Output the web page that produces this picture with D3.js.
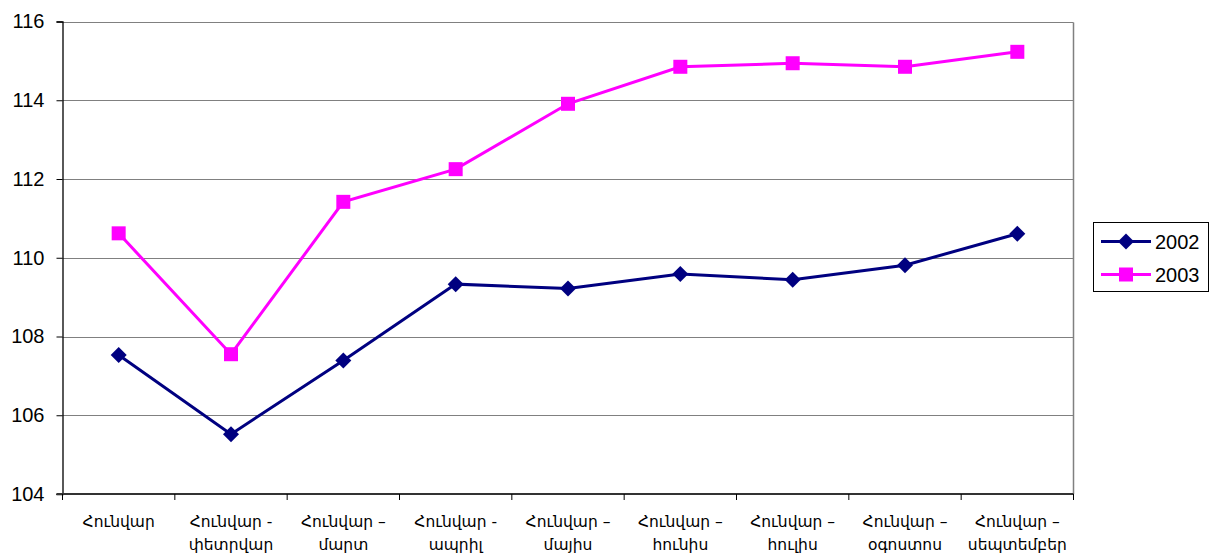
<!DOCTYPE html>
<html>
<head>
<meta charset="utf-8">
<script src="https://cdn.jsdelivr.net/npm/d3@7"></script>
<style>
  html, body { margin: 0; padding: 0; background: #fff; }
  svg { display: block; font-family: "Liberation Sans", Arial, sans-serif; }
  .ylab { font-size: 20px; fill: #000; }
  .xlab { font-family: "DejaVu Sans", "Noto Sans", sans-serif; font-size: 15.5px; fill: #000; }
  .leg { font-size: 20px; fill: #000; }
</style>
</head>
<body>
<svg id="chart" width="1215" height="554"></svg>
<script>
// ── Data ──────────────────────────────────────────────────────────────────
const categories = [
  'Հունվար',
  'Հունվար - փետրվար',
  'Հունվար – մարտ',
  'Հունվար - ապրիլ',
  'Հունվար – մայիս',
  'Հունվար – հունիս',
  'Հունվար – հուլիս',
  'Հունվար – օգոստոս',
  'Հունվար – սեպտեմբեր'
];
const values2002 = [107.53, 105.52, 107.39, 109.33, 109.22, 109.59, 109.44, 109.81, 110.61];
const values2003 = [110.62, 107.55, 111.42, 112.25, 113.91, 114.85, 114.94, 114.85, 115.23];
const yTicks = [104, 106, 108, 110, 112, 114, 116];

const series = [
  { name: '2002', values: values2002, color: '#000080', marker: 'diamond' },
  { name: '2003', values: values2003, color: '#FF00FF', marker: 'square' }
];

// ── Layout ────────────────────────────────────────────────────────────────
const plot = { left: 62.5, top: 21.5, right: 1073.5, bottom: 494 };
const svg = d3.select('#chart');

const x = d3.scaleBand()
  .domain(categories)
  .range([plot.left, plot.right]);

const y = d3.scaleLinear()
  .domain([104, 116])
  .range([plot.bottom, plot.top]);

const cx = d => x(d) + x.bandwidth() / 2;

// Gridlines
svg.append('g')
  .selectAll('line')
  .data(yTicks.filter(t => t !== 104))
  .enter()
  .append('line')
  .attr('x1', plot.left)
  .attr('x2', plot.right)
  .attr('y1', d => Math.round(y(d)) + 0.5)
  .attr('y2', d => Math.round(y(d)) + 0.5)
  .attr('stroke', '#808080')
  .attr('stroke-width', 1);

// Right border of plot area
svg.append('line')
  .attr('x1', plot.right).attr('x2', plot.right)
  .attr('y1', Math.round(y(116)) + 0.5).attr('y2', plot.bottom)
  .attr('stroke', '#808080')
  .attr('stroke-width', 1.5);

// Y axis
const yAxis = svg.append('g')
  .attr('transform', `translate(${plot.left},0)`)
  .call(d3.axisLeft(y).tickValues(yTicks).tickSize(6).tickPadding(12).tickFormat(d3.format('d')));
yAxis.select('.domain').attr('stroke', '#000').attr('stroke-width', 1.3);
yAxis.selectAll('.tick line').attr('stroke', '#000');
yAxis.selectAll('text').attr('class', 'ylab').attr('font-family', null).attr('font-size', null);

// X axis: ticks at category boundaries
const boundaries = categories.map(c => x(c)).concat([plot.right]);
svg.append('line')
  .attr('x1', plot.left - 6).attr('x2', plot.right)
  .attr('y1', plot.bottom).attr('y2', plot.bottom)
  .attr('stroke', '#333')
  .attr('stroke-width', 2);
svg.append('g')
  .selectAll('line')
  .data(boundaries)
  .enter()
  .append('line')
  .attr('x1', d => d).attr('x2', d => d)
  .attr('y1', plot.bottom).attr('y2', plot.bottom + 6)
  .attr('stroke', '#000')
  .attr('stroke-width', 1);

// X labels, wrapped at the last space
const xl = svg.append('g')
  .selectAll('text')
  .data(categories)
  .enter()
  .append('text')
  .attr('class', 'xlab')
  .attr('text-anchor', 'middle')
  .attr('x', d => cx(d))
  .attr('y', 527);
xl.each(function (d) {
  const i = d.lastIndexOf(' ');
  const lines = i > 0 ? [d.slice(0, i), d.slice(i + 1)] : [d];
  d3.select(this).selectAll('tspan')
    .data(lines)
    .enter()
    .append('tspan')
    .attr('x', cx(d))
    .attr('dy', (l, k) => k === 0 ? 0 : 23)
    .text(l => l);
});

// Markers
function drawMarker(g, type, color, px, py) {
  if (type === 'diamond') {
    g.append('path')
      .attr('d', `M${px},${py - 8}L${px + 8},${py}L${px},${py + 8}L${px - 8},${py}Z`)
      .attr('fill', color);
  } else {
    g.append('rect')
      .attr('x', px - 7).attr('y', py - 7)
      .attr('width', 14).attr('height', 14)
      .attr('fill', color);
  }
}

// Lines
const line = d3.line()
  .x((d, i) => cx(categories[i]))
  .y(d => y(d));

series.forEach(s => {
  const g = svg.append('g');
  g.append('path')
    .datum(s.values)
    .attr('fill', 'none')
    .attr('stroke', s.color)
    .attr('stroke-width', 3)
    .attr('d', line);
  s.values.forEach((v, i) => drawMarker(g, s.marker, s.color, cx(categories[i]), y(v)));
});

// Legend
const legend = svg.append('g');
legend.append('rect')
  .attr('x', 1093.5).attr('y', 222.5)
  .attr('width', 115).attr('height', 69)
  .attr('fill', '#fff')
  .attr('stroke', '#000')
  .attr('stroke-width', 1);
series.forEach((s, i) => {
  const ly = 241.5 + i * 33;
  legend.append('line')
    .attr('x1', 1101).attr('x2', 1151)
    .attr('y1', ly).attr('y2', ly)
    .attr('stroke', s.color)
    .attr('stroke-width', 3);
  drawMarker(legend, s.marker, s.color, 1126, ly);
  legend.append('text')
    .attr('class', 'leg')
    .attr('x', 1155)
    .attr('y', ly + 7)
    .text(s.name);
});
</script>
</body>
</html>
